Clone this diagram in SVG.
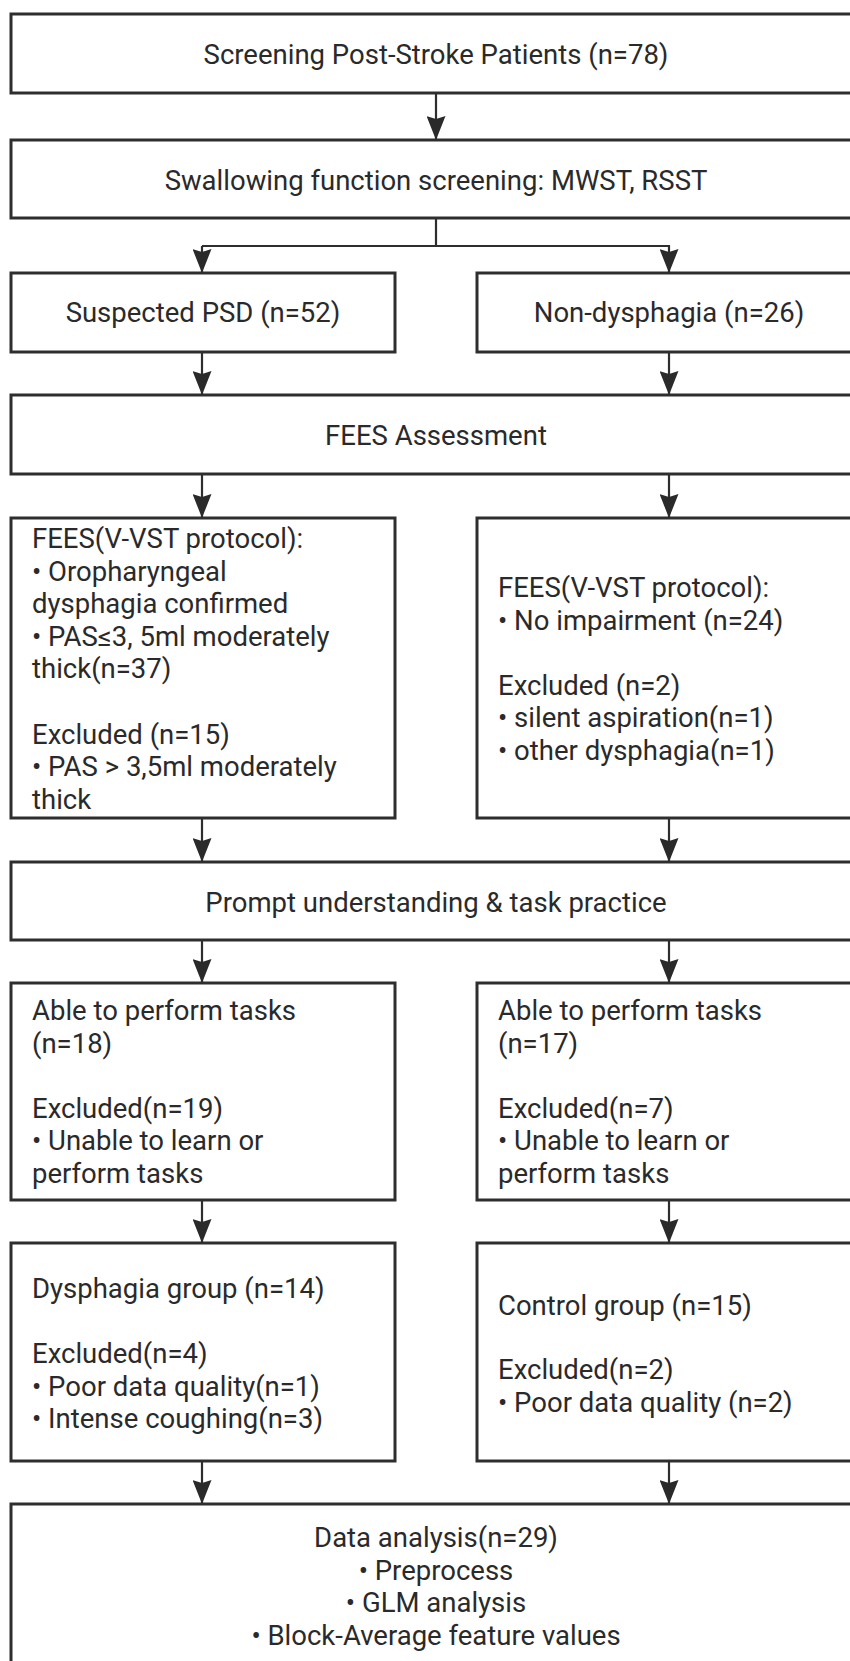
<svg xmlns="http://www.w3.org/2000/svg" width="850" height="1661" viewBox="0 0 850 1661">
<style>
.box{fill:#fff;stroke:#2e2e2e;stroke-width:3}
.t{font-family:Roboto,"Open Sans","DejaVu Sans",sans-serif;font-size:27.5px;fill:#2a2a2a}
.c{text-anchor:middle}
.ln{stroke:#2e2e2e;stroke-width:2.2;fill:none}
</style>
<defs>
<marker id="ah" viewBox="0 0 24 19" refX="24" refY="9.5" markerWidth="24" markerHeight="19" markerUnits="userSpaceOnUse" orient="auto">
<path d="M0,0 L24,9.5 L0,19 L3,9.5 z" fill="#2a2a2a"/>
</marker>
</defs>
<rect width="850" height="1661" fill="#fff"/>
<g id="connectors">
<line class="ln" x1="436" y1="93" x2="436" y2="140" marker-end="url(#ah)"/>
<polyline class="ln" points="436,218 436,246"/>
<polyline class="ln" points="202,246 669,246 669,273" marker-end="url(#ah)"/>
<line class="ln" x1="202" y1="246" x2="202" y2="273" marker-end="url(#ah)"/>
<line class="ln" x1="202" y1="352" x2="202" y2="395" marker-end="url(#ah)"/>
<line class="ln" x1="669" y1="352" x2="669" y2="395" marker-end="url(#ah)"/>
<line class="ln" x1="202" y1="474" x2="202" y2="518" marker-end="url(#ah)"/>
<line class="ln" x1="669" y1="474" x2="669" y2="518" marker-end="url(#ah)"/>
<line class="ln" x1="202" y1="818" x2="202" y2="862" marker-end="url(#ah)"/>
<line class="ln" x1="669" y1="818" x2="669" y2="862" marker-end="url(#ah)"/>
<line class="ln" x1="202" y1="940" x2="202" y2="983" marker-end="url(#ah)"/>
<line class="ln" x1="669" y1="940" x2="669" y2="983" marker-end="url(#ah)"/>
<line class="ln" x1="202" y1="1200" x2="202" y2="1243" marker-end="url(#ah)"/>
<line class="ln" x1="669" y1="1200" x2="669" y2="1243" marker-end="url(#ah)"/>
<line class="ln" x1="202" y1="1461" x2="202" y2="1504" marker-end="url(#ah)"/>
<line class="ln" x1="669" y1="1461" x2="669" y2="1504" marker-end="url(#ah)"/>
</g>
<g id="screening">
<rect class="box" x="11" y="14" width="850" height="79"/>
<text class="t c" x="436" y="64">Screening Post-Stroke Patients (n=78)</text>
</g>
<g id="swallowing">
<rect class="box" x="11" y="140" width="850" height="78"/>
<text class="t c" x="436" y="190">Swallowing function screening: MWST, RSST</text>
</g>
<g id="suspected">
<rect class="box" x="11" y="273" width="384" height="79"/>
<text class="t c" x="203" y="322">Suspected PSD (n=52)</text>
</g>
<g id="nondysphagia">
<rect class="box" x="477" y="273" width="384" height="79"/>
<text class="t c" x="669" y="322">Non-dysphagia (n=26)</text>
</g>
<g id="fees">
<rect class="box" x="11" y="395" width="850" height="79"/>
<text class="t c" x="436" y="445">FEES Assessment</text>
</g>
<g id="fees-left">
<rect class="box" x="11" y="518" width="384" height="300"/>
<text class="t" x="32" y="548">FEES(V-VST protocol):</text>
<text class="t" x="32" y="580.6">• Oropharyngeal</text>
<text class="t" x="32" y="613.2">dysphagia confirmed</text>
<text class="t" x="32" y="645.8">• PAS≤3, 5ml moderately</text>
<text class="t" x="32" y="678.4">thick(n=37)</text>
<text class="t" x="32" y="743.6">Excluded (n=15)</text>
<text class="t" x="32" y="776.2">• PAS &gt; 3,5ml moderately</text>
<text class="t" x="32" y="808.8">thick</text>
</g>
<g id="fees-right">
<rect class="box" x="477" y="518" width="384" height="300"/>
<text class="t" x="498" y="597">FEES(V-VST protocol):</text>
<text class="t" x="498" y="629.6">• No impairment (n=24)</text>
<text class="t" x="498" y="694.8">Excluded (n=2)</text>
<text class="t" x="498" y="727.4">• silent aspiration(n=1)</text>
<text class="t" x="498" y="760">• other dysphagia(n=1)</text>
</g>
<g id="prompt">
<rect class="box" x="11" y="862" width="850" height="78"/>
<text class="t c" x="436" y="912">Prompt understanding &amp; task practice</text>
</g>
<g id="able-left">
<rect class="box" x="11" y="983" width="384" height="217"/>
<text class="t" x="32" y="1020">Able to perform tasks</text>
<text class="t" x="32" y="1052.6">(n=18)</text>
<text class="t" x="32" y="1117.8">Excluded(n=19)</text>
<text class="t" x="32" y="1150.4">• Unable to learn or</text>
<text class="t" x="32" y="1183">perform tasks</text>
</g>
<g id="able-right">
<rect class="box" x="477" y="983" width="384" height="217"/>
<text class="t" x="498" y="1020">Able to perform tasks</text>
<text class="t" x="498" y="1052.6">(n=17)</text>
<text class="t" x="498" y="1117.8">Excluded(n=7)</text>
<text class="t" x="498" y="1150.4">• Unable to learn or</text>
<text class="t" x="498" y="1183">perform tasks</text>
</g>
<g id="dysphagia-group">
<rect class="box" x="11" y="1243" width="384" height="218"/>
<text class="t" x="32" y="1298">Dysphagia group (n=14)</text>
<text class="t" x="32" y="1363.2">Excluded(n=4)</text>
<text class="t" x="32" y="1395.8">• Poor data quality(n=1)</text>
<text class="t" x="32" y="1428.4">• Intense coughing(n=3)</text>
</g>
<g id="control-group">
<rect class="box" x="477" y="1243" width="384" height="218"/>
<text class="t" x="498" y="1315">Control group (n=15)</text>
<text class="t" x="498" y="1379">Excluded(n=2)</text>
<text class="t" x="498" y="1411.6">• Poor data quality (n=2)</text>
</g>
<g id="data-analysis">
<rect class="box" x="11" y="1504" width="850" height="180"/>
<text class="t c" x="436" y="1547">Data analysis(n=29)</text>
<text class="t c" x="436" y="1579.6">• Preprocess</text>
<text class="t c" x="436" y="1612.2">• GLM analysis</text>
<text class="t c" x="436" y="1644.8">• Block-Average feature values</text>
</g>
</svg>
